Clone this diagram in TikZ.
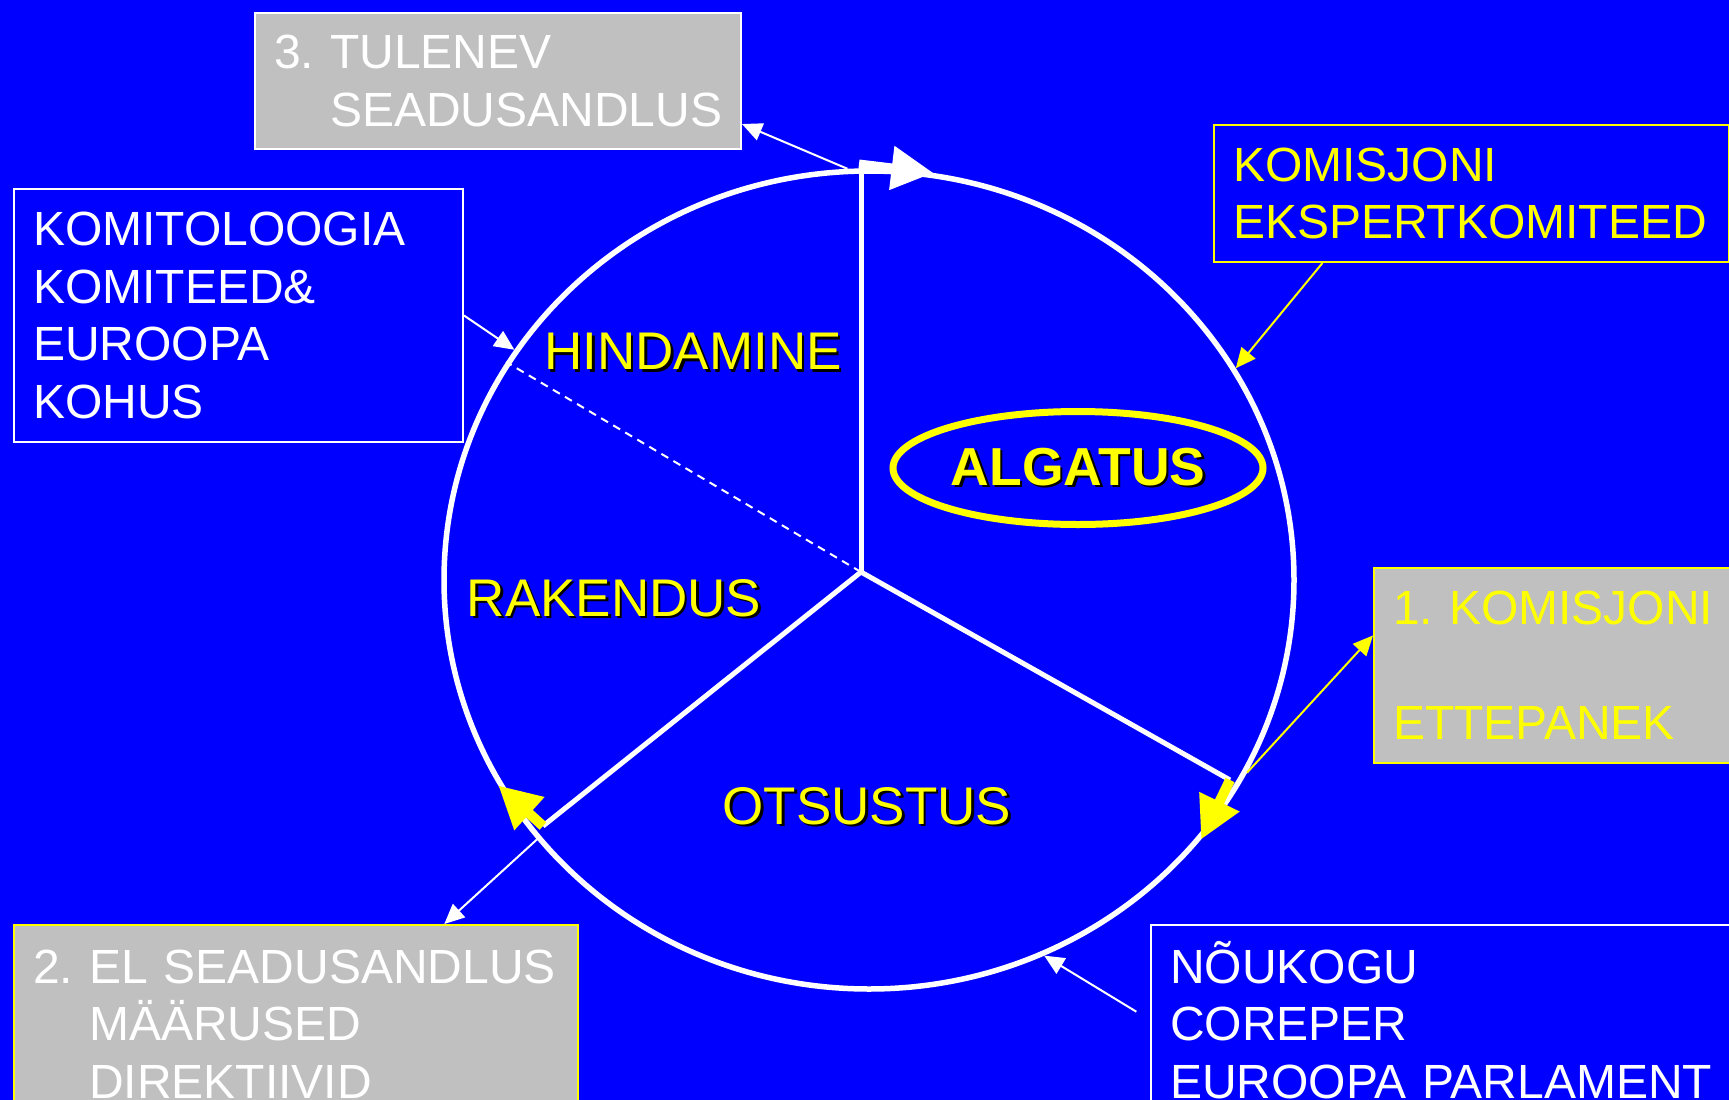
\documentclass[tikz,border=0pt]{standalone}
\usepackage{fontspec}
\setmainfont{Liberation Sans}
\usetikzlibrary{shapes.geometric, arrows.meta}

\definecolor{slideblue}{HTML}{0000FF}
\definecolor{slideyellow}{HTML}{FFFF00}
\definecolor{slidegrey}{HTML}{C0C0C0}
\newcommand{\shtext}[1]{\makebox[0pt][l]{\hspace{2.5pt}\raisebox{-2.5pt}{\color{black}#1}}#1}
\frenchspacing
\hyphenpenalty=10000

\begin{document}
\begin{tikzpicture}[
    x=1pt, y=-1pt,
    >={Triangle[length=20pt, width=18pt]},
    infobox/.style={draw, rectangle, line width=2pt, anchor=north west, align=left, inner xsep=19pt, inner ysep=0pt, font=\fontsize{48pt}{57.7pt}\selectfont},
    phase/.style={text=slideyellow, font=\fontsize{53pt}{60pt}\selectfont},
    link/.style={->, line width=2pt},
    spoke/.style={draw=white, line width=5pt},
    bigtip/.style={-{Triangle[length=42pt, width=42pt]}, line width=9pt}
]

\useasboundingbox (0,0) rectangle (1729,1100);
\fill[slideblue] (0,0) rectangle (1729,1100);
\clip (0,0) rectangle (1729,1100);

% Boxes
\node[infobox, fill=slidegrey, draw=white, text=white, minimum height=136pt, text width=448pt] (b3) at (254,12) {3. TULENEV\\\hphantom{3.\ }SEADUSANDLUS};
\node[infobox, draw=white, text=white, minimum height=253pt, text width=411pt] (bK) at (13,188) {KOMITOLOOGIA\\KOMITEED\&\\EUROOPA\\KOHUS};
\node[infobox, draw=slideyellow, text=slideyellow, minimum height=137pt, text width=477pt] (bE) at (1213,124) {KOMISJONI\\EKSPERTKOMITEED};
\node[infobox, fill=slidegrey, draw=slideyellow, text=slideyellow, minimum height=195pt, text width=340pt] (b1) at (1373,567) {1. KOMISJONI\\[57.7pt]ETTEPANEK};
\node[infobox, fill=slidegrey, draw=slideyellow, text=white, minimum height=198pt, text width=526pt] (b2) at (13,924) {2. EL SEADUSANDLUS\\\hphantom{2.\ }MÄÄRUSED\\\hphantom{2.\ }DIREKTIIVID};
\node[infobox, draw=white, text=white, minimum height=190pt, text width=562pt] (bN) at (1150,924) {NÕUKOGU\\COREPER\\EUROOPA PARLAMENT};

% Cycle and spokes
\node[draw=white, line width=5.5pt, ellipse, minimum width=850pt, minimum height=818pt, inner sep=0pt] (cyc) at (869,580) {};
\coordinate (hub) at (861,572);
\coordinate (hubtop) at (861,168);
\coordinate (hubright) at (1230,780);
\coordinate (hubleft) at (543,826);

\draw[spoke] (hub) -- (hubtop);
\draw[spoke] (hub) -- (hubright);
\draw[spoke] (hub) -- (hubleft);
\draw[white, line width=2pt, dash pattern=on 8pt off 6pt] (hub) -- (cyc.149.2);

\draw[white, bigtip] ([xshift=-2pt, yshift=4pt]hubtop) -- (cyc.81.9);
\draw[slideyellow, bigtip, line width=10pt] (hubright) -- (cyc.-38.6);
\draw[slideyellow, bigtip, line width=10pt] (hubleft) -- (cyc.-151.6);

% Phases
\node[phase] (hind) at (693,353) {\shtext{HINDAMINE}};
\node[phase] (rak) at (614,599) {\shtext{RAKENDUS}};
\node[phase] (ots) at (867,807) {\shtext{OTSUSTUS}};
\node[draw=slideyellow, line width=7pt, ellipse, minimum width=370pt, minimum height=113pt, inner sep=0pt, text=slideyellow, font=\bfseries\fontsize{53.5pt}{60pt}\selectfont] (alg) at (1078,468) {\shtext{ALGATUS}};

% Connectors
\draw[link, white] (cyc.93.8) -- (b3.-10.5);
\draw[link, white] (bK.east) -- (cyc.147.1);
\draw[link, slideyellow] (bE.205.5) -- (cyc.30.9);
\draw[link, slideyellow] (cyc.-27.9) -- (b1.171.7);
\draw[link, white] (cyc.-142.5) -- (b2.34);
\draw[link, white, shorten <=16pt] (bN.west) -- (cyc.-65.7);

\end{tikzpicture}
\end{document}
